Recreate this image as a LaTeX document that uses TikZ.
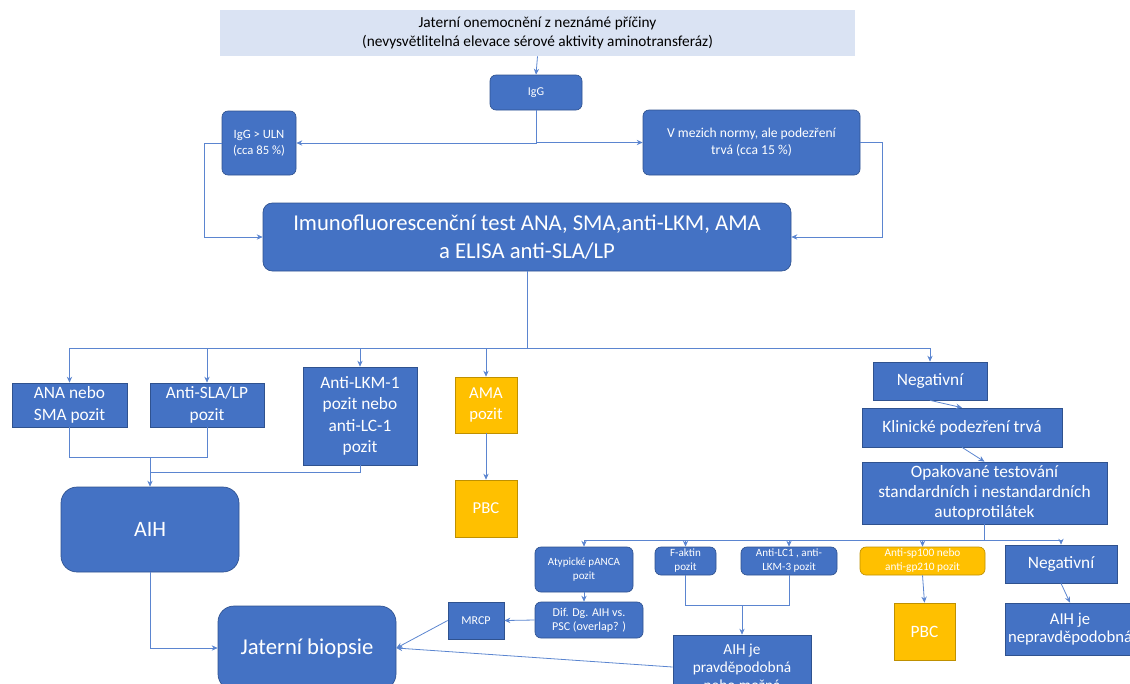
\documentclass[tikz,border=0pt]{standalone}
\usepackage{fontspec}
\setmainfont{Carlito}
\usetikzlibrary{arrows.meta}

\definecolor{boxblue}{RGB}{68,114,196}
\definecolor{boxedge}{RGB}{47,82,143}
\definecolor{boxyellow}{RGB}{255,192,0}
\definecolor{yellowedge}{RGB}{191,144,0}
\definecolor{topfill}{RGB}{218,227,243}
\definecolor{linkblue}{RGB}{91,133,208}

\newcommand{\fs}[2]{\fontsize{#1}{#2}\selectfont}

\tikzset{
  bluebox/.style={draw=boxedge, fill=boxblue, text=white, align=center, inner sep=1pt, line width=0.5pt},
  roundbox/.style={bluebox, rounded corners=4.5pt},
  yellowbox/.style={bluebox, draw=yellowedge, fill=boxyellow},
  link/.style={draw=linkblue, line width=0.6pt},
  arrowlink/.style={link, -{Stealth[length=4.5pt,width=4pt]}},
}

\begin{document}
\begin{tikzpicture}[x=0.75pt,y=0.75pt,yscale=-1,xscale=1]
\useasboundingbox (0,0) rectangle (1130,683);
\clip (0,0) rectangle (1130,683);

%Top box
\node [fill=topfill, minimum width=476.25pt, minimum height=34.5pt, align=center, inner sep=0pt, font={\fs{11.5}{14.25}}] (liver) at (537.5,33) {Jaterní onemocnění z neznámé příčiny\\(nevysvětlitelná elevace sérové aktivity aminotransferáz)};

% IgG level
\node [roundbox, minimum width=69pt, minimum height=26.25pt, font={\fs{9}{11}}] (igg) at (536,92.5) {IgG};
\node [roundbox, minimum width=55.5pt, minimum height=48pt, font={\fs{9.5}{12}}] (uln) at (259,143) {IgG > ULN\\(cca 85 \%)};
\node [roundbox, minimum width=162.75pt, minimum height=48.75pt, font={\fs{10.2}{12.5}}] (norm) at (751.5,142.5) {V mezich normy, ale podezření\\trvá (cca 15 \%)};

% Test
\node [roundbox, rounded corners=7pt, minimum width=396pt, minimum height=51pt, font={\fs{17}{21}}] (ift) at (527,237) {Imunofluorescenční test ANA, SMA,anti-LKM, AMA\\a ELISA anti-SLA/LP};

% Results
\node [bluebox, minimum width=86.25pt, minimum height=33pt, font={\fs{13}{16.5}}] (ana) at (69.5,405) {ANA nebo\\SMA pozit};
\node [bluebox, minimum width=85.5pt, minimum height=33pt, font={\fs{13}{16.5}}] (sla) at (207,405) {Anti-SLA/LP\\pozit};
\node [bluebox, minimum width=85.5pt, minimum height=73.5pt, font={\fs{13}{16}}] (lkm) at (360,416) {Anti-LKM-1\\pozit nebo\\anti-LC-1\\pozit};
\node [yellowbox, minimum width=46.5pt, minimum height=42pt, font={\fs{12.5}{16}}] (ama) at (486,405) {AMA\\pozit};
\node [yellowbox, minimum width=46.5pt, minimum height=42.75pt, font={\fs{12.5}{15}}] (pbc) at (486,508.5) {PBC};
\node [roundbox, rounded corners=12pt, minimum width=133.5pt, minimum height=63.75pt, font={\fs{16.5}{20}}] (aih) at (150,529.5) {AIH};
\node [roundbox, rounded corners=12pt, minimum width=133.5pt, minimum height=63pt, font={\fs{17}{20}}] (biop) at (307,648) {Jaterní biopsie};

% Negative branch
\node [bluebox, minimum width=85.5pt, minimum height=28.5pt, font={\fs{13}{15}}] (neg) at (930,381) {Negativní};
\node [bluebox, minimum width=150pt, minimum height=29.25pt, font={\fs{13}{15}}] (klin) at (962,427.5) {Klinické podezření trvá};
\node [bluebox, minimum width=183.75pt, minimum height=46.5pt, font={\fs{13}{15}}] (opak) at (984.5,493) {Opakované testování\\standardních i nestandardních\\autoprotilátek};

% Repeated testing
\node [roundbox, minimum width=73.5pt, minimum height=33.75pt, font={\fs{8.3}{11}}] (panca) at (584,569.5) {Atypické pANCA\\pozit};
\node [roundbox, minimum width=45.75pt, minimum height=21pt, font={\fs{8.3}{10.5}}] (faktin) at (685.5,561) {F-aktin\\pozit};
\node [roundbox, minimum width=72pt, minimum height=21pt, font={\fs{8.3}{10.5}}] (lc) at (789,561) {Anti-LC1 , anti-\\LKM-3 pozit};
\node [yellowbox, rounded corners=4.5pt, minimum width=93.75pt, minimum height=21pt, font={\fs{8.5}{10.5}}] (sp) at (922.5,561) {Anti-sp100 nebo\\anti-gp210 pozit};
\node [bluebox, minimum width=84pt, minimum height=28.5pt, font={\fs{13}{15}}] (neg2) at (1061,564) {Negativní};
\node [roundbox, minimum width=81pt, minimum height=27pt, font={\fs{9}{10.5}}] (dif) at (589,620) {Dif. Dg. AIH vs.\\PSC (overlap? )};
\node [bluebox, minimum width=42pt, minimum height=27.75pt, font={\fs{9}{10}}] (mrcp) at (476,620.5) {MRCP};
\node [bluebox, minimum width=103.5pt, minimum height=48pt, font={\fs{11.5}{13.5}}] (pravd) at (742,667) {AIH je\\pravděpodobná\\nebo možná};
\node [yellowbox, minimum width=45.75pt, minimum height=42.75pt, font={\fs{13}{15}}] (pbc2) at (924.5,631.5) {PBC};
\node [bluebox, minimum width=97.5pt, minimum height=39pt, font={\fs{12.5}{13.5}}] (unlik) at (1070,629) {AIH je\\nepravděpodobná};

% Connectors
\draw [arrowlink] (liver.south) -- (igg.north);
\draw [arrowlink] (igg.south) |- (uln.east);
\draw [arrowlink] (igg.south) |- (norm.west);
\draw [arrowlink] (uln.west) -- ++(-17,0) |- (ift.west);
\draw [arrowlink] (norm.east) -- ++(22,0) |- (ift.east);

\draw [link] (ift.south) -- ++(0,77) coordinate (bus1);
\draw [link] (ana.north |- bus1) -- (neg.north |- bus1);
\foreach \n in {ana,sla,lkm,ama,neg}
  \draw [arrowlink] (\n.north |- bus1) -- (\n.north);

\path (aih.north) ++(0,-29) coordinate (j1);
\path (aih.north) ++(0,-14) coordinate (j2);
\draw [link] (ana.south) |- (j1) -| (sla.south);
\draw [link] (lkm.south) |- (j2);
\draw [arrowlink] (j1) -- (aih.north);
\draw [arrowlink] (ama.south) -- (pbc.north);
\draw [arrowlink] (aih.south) |- (biop.west);

\draw [arrowlink] (neg.south) -- (klin.north);
\draw [arrowlink] (klin.south) -- (opak.north);

\draw [link] (opak.south) -- ++(0,16) coordinate (bus2);
\draw [link] (panca.north |- bus2) -- (neg2.north |- bus2);
\foreach \n in {panca,faktin,lc,sp,neg2}
  \draw [arrowlink] (\n.north |- bus2) -- (\n.north);

\draw [arrowlink] (panca.south) -- (panca.south |- dif.north);
\draw [arrowlink] (dif.west) -- (mrcp.east);
\draw [arrowlink] (mrcp.west) -- (biop.east);
\draw [arrowlink] (pravd.west) -- (biop.east);

\path (pravd.north) ++(0,-29) coordinate (j3);
\draw [link] (faktin.south) |- (j3) -| (lc.south);
\draw [arrowlink] (j3) -- (pravd.north);
\draw [arrowlink] (sp.south) -- (pbc2.north);
\draw [arrowlink] (neg2.south) -- (unlik.north);

\end{tikzpicture}
\end{document}
